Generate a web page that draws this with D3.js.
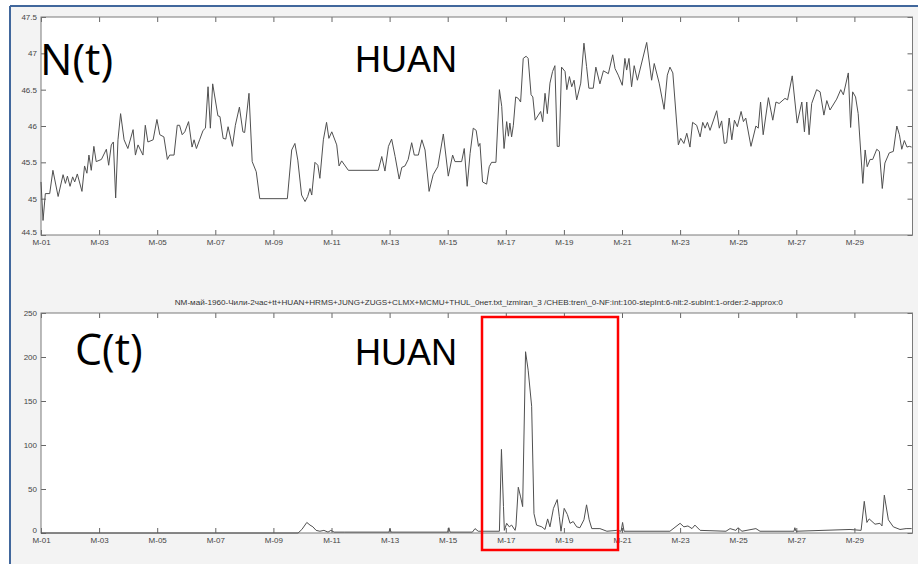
<!DOCTYPE html>
<html><head><meta charset="utf-8">
<script src="https://cdn.jsdelivr.net/npm/d3@7"></script>
<style>body{margin:0;background:#fff;overflow:hidden}</style>
</head><body><svg id="c" width="918" height="564"></svg>
<script>
// N(t): [day offset from 1 May 1960, value]
const nSeries = [
[0.00,45.23],[0.07,44.70],[0.15,45.07],[0.30,45.07],[0.41,45.39],[0.59,45.03],[0.76,45.33],[0.84,45.21],[0.91,45.31],[1.00,45.17],
[1.09,45.30],[1.16,45.23],[1.25,45.34],[1.41,45.10],[1.50,45.45],[1.58,45.35],[1.65,45.60],[1.73,45.39],[1.82,45.72],[1.90,45.51],
[2.08,45.54],[2.25,45.68],[2.33,45.46],[2.42,45.74],[2.49,45.78],[2.57,45.01],[2.65,45.81],[2.74,46.17],[2.86,45.81],[2.99,45.69],
[3.17,45.95],[3.25,45.60],[3.34,45.74],[3.51,45.60],[3.59,46.01],[3.68,45.78],[3.86,45.81],[3.99,46.09],[4.09,45.88],[4.23,45.85],
[4.35,45.54],[4.43,45.60],[4.58,45.60],[4.69,46.01],[4.77,46.01],[4.86,45.88],[4.95,45.92],[5.08,46.06],[5.20,45.71],[5.27,45.81],
[5.35,45.69],[5.46,45.81],[5.58,45.94],[5.66,45.97],[5.75,46.54],[5.83,45.97],[5.91,46.58],[6.09,46.14],[6.16,46.13],[6.27,45.83],
[6.36,45.82],[6.44,45.99],[6.59,45.72],[6.69,46.01],[6.83,46.26],[6.95,45.92],[7.01,45.91],[7.16,46.45],[7.27,45.51],[7.41,45.37],
[7.53,45.00],[8.48,45.00],[8.63,45.67],[8.74,45.76],[8.84,45.53],[8.97,45.05],[9.09,44.96],[9.18,45.03],[9.26,45.14],[9.32,45.05],
[9.43,45.50],[9.53,45.46],[9.60,45.28],[9.72,45.81],[9.83,46.05],[9.91,45.83],[10.01,45.92],[10.18,45.74],[10.26,45.45],[10.35,45.52],
[10.58,45.39],[11.61,45.39],[11.73,45.58],[11.84,45.38],[11.96,45.72],[12.07,45.82],[12.19,45.58],[12.33,45.27],[12.42,45.43],[12.53,45.45],
[12.64,45.54],[12.76,45.77],[12.85,45.60],[12.99,45.60],[13.11,45.81],[13.22,45.67],[13.36,45.10],[13.50,45.33],[13.66,45.44],[13.85,45.89],
[14.02,45.31],[14.17,45.60],[14.25,45.51],[14.48,45.51],[14.57,45.69],[14.67,45.17],[14.77,45.62],[14.88,45.97],[14.98,45.94],[15.06,45.72],
[15.11,45.76],[15.20,45.23],[15.34,45.20],[15.43,45.44],[15.51,45.50],[15.66,45.50],[15.78,46.50],[15.86,46.27],[15.94,45.69],[16.03,46.06],
[16.09,45.86],[16.14,46.04],[16.20,45.85],[16.26,46.01],[16.34,46.40],[16.43,46.38],[16.51,46.33],[16.60,46.93],[16.70,46.96],[16.77,46.93],
[16.87,46.43],[16.93,46.40],[17.01,46.08],[17.12,46.15],[17.20,46.20],[17.27,46.06],[17.35,46.45],[17.43,46.17],[17.52,46.59],[17.61,46.75],
[17.69,46.83],[17.77,45.72],[17.84,45.72],[17.92,46.81],[18.04,46.75],[18.10,46.50],[18.19,46.68],[18.27,46.54],[18.35,46.63],[18.44,46.36],
[18.58,46.59],[18.69,47.14],[18.78,46.82],[18.86,46.52],[19.01,46.52],[19.10,46.81],[19.24,46.58],[19.36,46.76],[19.53,46.72],[19.68,46.98],
[19.76,46.79],[19.87,46.70],[20.01,46.56],[20.10,46.93],[20.16,46.77],[20.24,46.93],[20.33,46.54],[20.42,46.83],[20.53,46.63],[20.85,47.15],
[21.02,46.63],[21.11,46.86],[21.28,46.59],[21.45,46.23],[21.56,46.70],[21.65,46.81],[21.75,46.73],[21.94,45.74],[22.02,45.83],[22.13,45.76],
[22.23,45.90],[22.34,45.71],[22.43,46.05],[22.57,46.01],[22.69,45.85],[22.78,46.05],[22.86,45.97],[22.94,46.05],[23.03,45.94],[23.26,46.21],
[23.35,45.97],[23.43,46.07],[23.52,45.76],[23.60,45.77],[23.69,46.11],[23.78,45.81],[23.87,46.08],[23.97,45.99],[24.10,46.20],[24.18,46.06],
[24.26,46.11],[24.44,45.72],[24.61,46.00],[24.69,45.97],[24.77,46.33],[24.86,45.88],[25.04,46.39],[25.19,46.08],[25.30,46.33],[25.41,46.31],
[25.61,46.38],[25.70,46.36],[25.86,46.69],[26.03,46.04],[26.19,46.33],[26.28,45.92],[26.36,46.33],[26.44,45.88],[26.53,46.31],[26.70,46.50],
[26.82,46.47],[26.95,46.15],[27.05,46.35],[27.16,46.22],[27.39,46.37],[27.53,46.50],[27.62,46.43],[27.79,46.73],[27.87,45.98],[27.94,46.47],
[28.04,46.40],[28.13,46.17],[28.29,45.21],[28.37,45.67],[28.44,45.44],[28.54,45.54],[28.63,45.54],[28.77,45.68],[28.86,45.65],[28.96,45.14],
[29.05,45.49],[29.20,45.63],[29.34,45.65],[29.46,46.00],[29.55,45.88],[29.63,45.68],[29.72,45.80],[29.81,45.71],[29.89,45.72],[29.97,45.71]
];
// C(t): [day offset, value]
const cSeries = [
[0.00,0],[8.85,0],[8.98,4],[9.15,12],[9.26,9],[9.36,7],[9.47,3],[9.60,2],[9.74,3],[9.88,1],[9.98,3],[10.09,1],
[10.46,1],[11.98,1],[12.01,5],[12.05,1],[14.00,1],[14.04,6],[14.08,1],[14.85,1],[14.94,5],[15.05,2],[15.78,2],[15.85,95],
[15.92,30],[15.95,3],[16.03,11],[16.12,7],[16.20,9],[16.32,3],[16.35,8],[16.43,52],[16.51,41],[16.58,30],[16.68,206],[16.77,185],
[16.89,144],[16.97,22],[17.06,9],[17.24,7],[17.35,4],[17.44,16],[17.52,7],[17.64,28],[17.77,38],[17.84,19],[17.90,2],[18.01,28],
[18.12,21],[18.21,11],[18.32,13],[18.44,7],[18.55,6],[18.69,15],[18.78,32],[18.87,15],[18.96,5],[19.24,5],[19.48,2],[19.82,3],
[19.97,2],[20.02,12],[20.07,2],[21.65,2],[22.00,11],[22.13,7],[22.27,8],[22.41,5],[22.51,9],[22.69,3],[23.58,2],[23.72,5],
[23.92,3],[23.99,6],[24.13,2],[24.61,5],[24.75,2],[25.92,2],[25.95,6],[25.99,2],[27.85,4],[28.23,3],[28.34,36],[28.43,12],
[28.51,16],[28.71,10],[28.88,11],[28.95,8],[29.03,43],[29.17,15],[29.34,7],[29.57,4],[29.78,5],[29.97,5]
];
const xTickDays = [0,2,4,6,8,10,12,14,16,18,20,22,24,26,28];
const xTickLabels = ["M-01","M-03","M-05","M-07","M-09","M-11","M-13","M-15","M-17","M-19","M-21","M-23","M-25","M-27","M-29"];
const nTicks = [44.5,45,45.5,46,46.5,47,47.5];
const cTicks = [0,50,100,150,200,250];
const nTickLabels = ["44.5","45","45.5","46","46.5","47","47.5"];
const cTickLabels = ["0","50","100","150","200","250"];
const title = "NM-май-1960-Чили-2час+tt+HUAN+HRMS+JUNG+ZUGS+CLMX+MCMU+THUL_0нет.txt_izmiran_3 /CHEB:tren\\_0-NF:int:100-stepInt:6-nlt:2-subInt:1-order:2-approx:0";
const stationName = "HUAN";

const svg = d3.select("#c");
svg.append("rect").attr("x",10).attr("y",6).attr("width",908).attr("height",558).attr("fill","#f3f3f3");
svg.append("line").attr("x1",10).attr("y1",6).attr("x2",918).attr("y2",6).attr("stroke","#41679c").attr("stroke-width",2);
svg.append("line").attr("x1",10).attr("y1",6).attr("x2",10).attr("y2",564).attr("stroke","#41679c").attr("stroke-width",2);

const L = 41, R = 912.5;
const x = d3.scaleLinear().domain([0,30]).range([L,R]);

function panel(top, bottom, yDomain, yTicks, yLabels, series) {
  const y = d3.scaleLinear().domain(yDomain).range([bottom, top]);
  const g = svg.append("g");
  g.append("rect").attr("x",L).attr("y",top).attr("width",R-L).attr("height",bottom-top).attr("fill","#fff");
  const fontF = "'Liberation Sans', Arial, sans-serif";
  const ax = (gen, tx, ty) => {
    const a = g.append("g").attr("transform",`translate(${tx},${ty})`).call(gen);
    a.select(".domain").remove();
    a.selectAll(".tick line").attr("stroke","#666");
    a.selectAll("text").attr("fill","#444").style("font-family",fontF).style("font-size","8px");
    return a;
  };
  ax(d3.axisBottom(x).tickValues(xTickDays).tickFormat((d,i)=>xTickLabels[i]).tickSizeInner(-5).tickSizeOuter(0).tickPadding(4), 0, bottom);
  ax(d3.axisTop(x).tickValues(xTickDays).tickFormat("").tickSizeInner(-5).tickSizeOuter(0), 0, top);
  const la = ax(d3.axisLeft(y).tickValues(yTicks).tickFormat((d,i)=>yLabels[i]).tickSizeInner(-5).tickSizeOuter(0).tickPadding(4), L, 0);
  la.selectAll(".tick text").filter((d,i)=>i===0).attr("dy","-0.05em");
  ax(d3.axisRight(y).tickValues(yTicks).tickFormat("").tickSizeInner(-5).tickSizeOuter(0), R, 0);
  g.append("rect").attr("x",L).attr("y",top).attr("width",R-L).attr("height",bottom-top)
    .attr("fill","none").attr("stroke","#7a7a7a").attr("stroke-width",1);
  const line = d3.line().x(d=>x(d[0])).y(d=>y(d[1]));
  g.append("path").datum(series).attr("d",line).attr("fill","none")
    .attr("stroke","#505050").attr("stroke-width",1).attr("stroke-linejoin","round");
  return y;
}

panel(17, 235, [44.5,47.5], nTicks, nTickLabels, nSeries);
panel(313, 533, [0,250], cTicks, cTickLabels, cSeries);

svg.append("text").attr("x",(L+R)/2+2).attr("y",305).attr("text-anchor","middle")
  .attr("textLength",608).attr("lengthAdjust","spacingAndGlyphs")
  .style("font-family","'Liberation Sans', Arial, sans-serif").style("font-size","8px").attr("fill","#333").text(title);

const big = "'Open Sans', 'Noto Sans', sans-serif";
svg.append("text").attr("x",40).attr("y",75).style("font-family",big).style("font-size","43px").attr("fill","#000").text("N(t)");
svg.append("text").attr("x",355).attr("y",72).style("font-family","'Liberation Sans', Arial, sans-serif").style("font-size","36px").attr("fill","#000").text(stationName);
svg.append("text").attr("x",75).attr("y",365).style("font-family",big).style("font-size","43px").attr("fill","#000").text("C(t)");
svg.append("text").attr("x",355).attr("y",365).style("font-family","'Liberation Sans', Arial, sans-serif").style("font-size","36px").attr("fill","#000").text(stationName);

svg.append("rect").attr("x",482).attr("y",317).attr("width",136).attr("height",233)
  .attr("fill","none").attr("stroke","#ff0000").attr("stroke-width",2.5);
</script></body></html>
